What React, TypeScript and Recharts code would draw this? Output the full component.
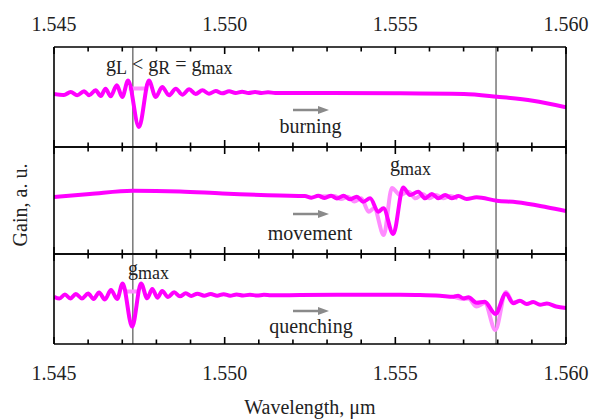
import React from "react";
import { LineChart, Line, XAxis, YAxis, ReferenceLine } from "recharts";

// wavelength axis, µm
const minorTicks = [1.545, 1.546, 1.547, 1.548, 1.549, 1.55, 1.551, 1.552, 1.553, 1.554, 1.555, 1.556, 1.557, 1.558, 1.559, 1.56];
const majorTicks = [1.545, 1.55, 1.555, 1.56];
const markers = [1.54731, 1.55795];

// top panel: burning
const burnWl = [1.545, 1.54529, 1.54549, 1.54568, 1.54588, 1.54603, 1.54622, 1.54637, 1.54651, 1.54666, 1.54684, 1.547, 1.54717, 1.54749, 1.54778, 1.54798, 1.54817, 1.54837, 1.54857, 1.54876, 1.54896, 1.54915, 1.54935, 1.54954, 1.54974, 1.54993, 1.55013, 1.55032, 1.55051, 1.5507, 1.55089, 1.55108, 1.55127, 1.55148, 1.55191, 1.55499, 1.55701, 1.55798, 1.55903, 1.56];
const burnGain = [53, 52, 55, 51.7, 55.7, 51.7, 56.7, 51, 58.3, 50.7, 61.7, 50, 66.5, 20, 66.5, 50, 60, 51.7, 58.3, 52.3, 57.7, 53, 56.7, 53.3, 56, 53.7, 55.7, 54, 55.3, 54, 55, 54, 54.8, 54, 54, 53.7, 53, 50.3, 46.3, 39.7];
const burnLightWl = [1.54719, 1.54776];
const burnLightGain = [58.5, 58.5];

// middle panel: movement
const moveWl = [1.545, 1.54605, 1.54731, 1.54869, 1.54993, 1.55162, 1.55235, 1.55254, 1.55274, 1.55293, 1.55312, 1.55329, 1.55348, 1.55367, 1.55387, 1.55406, 1.55426, 1.5545, 1.55465, 1.55494, 1.55523, 1.55543, 1.55567, 1.55587, 1.55607, 1.55626, 1.55646, 1.55665, 1.55685, 1.55709, 1.55738, 1.55797, 1.55856, 1.55944, 1.56];
const moveGain = [57, 60, 63.3, 62.5, 60.5, 58.5, 58, 56.3, 58.2, 56, 58.3, 55.5, 58.3, 54.7, 57.3, 52.3, 55.7, 42.3, 45.7, 20, 66.5, 59, 62.3, 55.7, 60, 55.7, 59, 55.7, 58, 55, 56.7, 53.3, 51.7, 46.7, 43];
const moveLightWl = [1.55279, 1.55322, 1.55341, 1.55361, 1.5538, 1.554, 1.55422, 1.55438, 1.55466, 1.5549, 1.55514, 1.55539, 1.55559, 1.5558, 1.556, 1.55619, 1.5564, 1.5566, 1.55683];
const moveLightGain = [57.5, 58, 55, 57.3, 52.5, 55.7, 42.3, 45.7, 19, 66, 59, 62.3, 55.7, 60, 55.7, 59, 55.7, 58, 55.5];

// bottom panel: quenching
const quenchWl = [1.545, 1.54516, 1.54532, 1.54548, 1.54564, 1.54582, 1.546, 1.54616, 1.54632, 1.54649, 1.54667, 1.54685, 1.54701, 1.54729, 1.54755, 1.54773, 1.54788, 1.54803, 1.54817, 1.54834, 1.54852, 1.54869, 1.54886, 1.54902, 1.5492, 1.5494, 1.54959, 1.54978, 1.54997, 1.55016, 1.55035, 1.55054, 1.55074, 1.55095, 1.55115, 1.55136, 1.55221, 1.55367, 1.55514, 1.55572, 1.55631, 1.5567, 1.55684, 1.55699, 1.55714, 1.55738, 1.55762, 1.55793, 1.55824, 1.55845, 1.55865, 1.55885, 1.55904, 1.55924, 1.55944, 1.55971, 1.56];
const quenchGain = [47.3, 45.5, 49.5, 45.5, 50, 45.5, 50.5, 45, 51.5, 44.5, 54, 45, 60.5, 17.3, 60.5, 45.7, 55, 46.3, 53, 47, 51.7, 47.7, 50.7, 48, 50.3, 48.3, 50, 48.3, 49.8, 48.3, 49.5, 48.5, 49.3, 48.5, 49.2, 48.7, 49, 49.3, 49.2, 49, 48.3, 47.3, 48.3, 45.7, 46.7, 41.3, 42.3, 30, 50.5, 40.7, 43.3, 40, 42, 39.3, 40.5, 37.5, 36];
const quenchLightWl = [1.54708, 1.5475, 1.552, 1.5567, 1.55699, 1.55714, 1.55738, 1.55762, 1.55793, 1.55824, 1.55845, 1.55865];
const quenchLightGain = [52.5, 52.5, null, 47.3, 45, 45.5, 37.5, 41, 14, 52, 41.5, 43.5];

const W = 591;
const H = 420;
const FONT = "'Liberation Serif', 'Times New Roman', serif";
const DARK = "#ff00ff";
const LIGHT = "#ff8cff";
const DOMAIN: [number, number] = [1.545, 1.56];
// panel edges in px: [top, bottom]
const PANELS: [number, number][] = [[47, 147], [147, 254], [254, 344]];
const PLOT_L = 54;
const PLOT_W = 512;

const zip = (wl: number[], g: (number | null)[]) => wl.map((w, i) => ({ wl: w, g: g[i] }));
const isMajor = (v: number) => majorTicks.some((m) => Math.abs(m - v) < 1e-7);
const xPix = (t: number) => PLOT_L + ((t - DOMAIN[0]) / (DOMAIN[1] - DOMAIN[0])) * PLOT_W;

type PanelProps = {
  top: number;
  bottom: number;
  yMax: number;
  dark: { wl: number; g: number | null }[];
  light: { wl: number; g: number | null }[];
};

function Panel({ top, bottom, yMax, dark, light }: PanelProps) {
  const edge = { stroke: "#000", strokeWidth: 1.6 };
  return (
    <LineChart
      width={W}
      height={bottom - top + 40}
      style={{ position: "absolute", left: 0, top: top - 20 }}
      margin={{ top: 19, bottom: 19, left: 53, right: 24 }}
    >
      <XAxis xAxisId="b" dataKey="wl" type="number" orientation="bottom" height={1} domain={DOMAIN} allowDataOverflow ticks={minorTicks} tick={false} tickLine={false} axisLine={edge} />
      <XAxis xAxisId="t" dataKey="wl" type="number" orientation="top" height={1} domain={DOMAIN} allowDataOverflow ticks={minorTicks} tick={false} tickLine={false} axisLine={edge} />
      <YAxis yAxisId="l" type="number" domain={[0, yMax]} allowDataOverflow width={1} tick={false} tickLine={false} axisLine={edge} />
      <YAxis yAxisId="r" orientation="right" type="number" domain={[0, yMax]} width={1} tick={false} tickLine={false} axisLine={edge} />
      {markers.map((m) => (
        <ReferenceLine key={m} x={m} xAxisId="b" yAxisId="l" stroke="#555" strokeWidth={1.2} />
      ))}
      <Line xAxisId="b" yAxisId="l" data={light} dataKey="g" type="monotone" stroke={LIGHT} strokeWidth={4} dot={false} isAnimationActive={false} />
      <Line
        xAxisId="b"
        yAxisId="l"
        data={dark}
        dataKey="g"
        type="monotone"
        stroke={DARK}
        strokeWidth={4}
        strokeLinejoin="round"
        dot={false}
        isAnimationActive={false}
      />
    </LineChart>
  );
}

function Arrow({ x1, x2, y }: { x1: number; x2: number; y: number }) {
  return (
    <g>
      <line x1={x1} x2={x2 - 8} y1={y} y2={y} stroke="#8a8a8a" strokeWidth={2.5} />
      <polygon points={`${x2},${y} ${x2 - 11},${y - 4} ${x2 - 11},${y + 4}`} fill="#8a8a8a" />
    </g>
  );
}

const txt = { fontFamily: FONT };

function G({ x, y, sub }: { x: number; y: number; sub: string }) {
  return (
    <text x={x} y={y} style={txt} fontSize={20} fill="#222">
      g<tspan fontSize={18} dy={4}>{sub}</tspan>
    </text>
  );
}

export default function App() {
  return (
    <div style={{ position: "absolute", left: 0, top: 0, width: W, height: H, background: "#fff" }}>
      <Panel top={47} bottom={147} yMax={100} dark={zip(burnWl, burnGain)} light={zip(burnLightWl, burnLightGain)} />
      <Panel top={147} bottom={254} yMax={107} dark={zip(moveWl, moveGain)} light={zip(moveLightWl, moveLightGain)} />
      <Panel top={254} bottom={344} yMax={90} dark={zip(quenchWl, quenchGain)} light={zip(quenchLightWl, quenchLightGain)} />
      <svg width={W} height={H} style={{ position: "absolute", left: 0, top: 0, pointerEvents: "none" }}>
        {/* inward tick marks on the top and bottom edge of every panel */}
        {PANELS.map(([pt, pb]) =>
          minorTicks.map((t) => {
            const len = isMajor(t) ? 7 : 4.5;
            const x = xPix(t);
            return (
              <g key={`${pt}-${t}`} stroke="#000" strokeWidth={1.6}>
                <line x1={x} x2={x} y1={pt} y2={pt + len} />
                <line x1={x} x2={x} y1={pb - len} y2={pb} />
              </g>
            );
          })
        )}
        {majorTicks.map((t) => (
          <text key={`top${t}`} x={xPix(t)} y={30.7} textAnchor="middle" style={txt} fontSize={20} fill="#222">
            {t.toFixed(3)}
          </text>
        ))}
        {majorTicks.map((t) => (
          <text key={`bot${t}`} x={xPix(t)} y={380} textAnchor="middle" style={txt} fontSize={20} fill="#222">
            {t.toFixed(3)}
          </text>
        ))}
        <text x={106} y={70.5} style={txt} fontSize={20} fill="#222">
          g<tspan fontSize={18} dy={3.5}>L</tspan>
          <tspan dy={-3.5}>{" < g"}</tspan>
          <tspan fontSize={18} dy={3.5}>R</tspan>
          <tspan dy={-3.5}>{" = g"}</tspan>
          <tspan fontSize={18} dy={3.5}>max</tspan>
        </text>
        <G x={390} y={171} sub="max" />
        <G x={128} y={275} sub="max" />
        <Arrow x1={293} x2={329} y={110} />
        <Arrow x1={293} x2={329} y={214} />
        <Arrow x1={293} x2={329} y={311} />
        <text x={310.5} y={132.7} textAnchor="middle" style={txt} fontSize={20} fill="#222">burning</text>
        <text x={310} y={240} textAnchor="middle" style={txt} fontSize={20} fill="#222">movement</text>
        <text x={311} y={333.3} textAnchor="middle" style={txt} fontSize={20} fill="#222">quenching</text>
        <text x={310} y={414} textAnchor="middle" style={txt} fontSize={20} fill="#222">Wavelength, μm</text>
        <text x={27} y={205} textAnchor="middle" style={txt} fontSize={20} fill="#222" transform="rotate(-90 27 205)">
          Gain, a. u.
        </text>
      </svg>
    </div>
  );
}
